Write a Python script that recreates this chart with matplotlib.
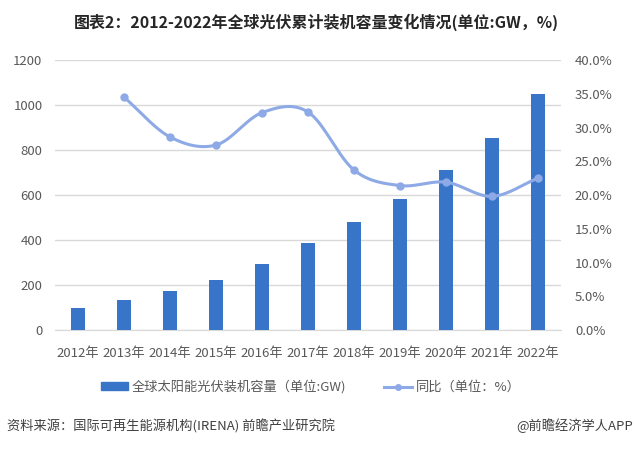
import numpy as np
import matplotlib
matplotlib.use("Agg")
import matplotlib.pyplot as plt
from matplotlib.lines import Line2D
from matplotlib.patches import Patch

plt.rcParams['font.family'] = ['Noto Sans CJK SC', 'DejaVu Sans']

years = ['2012年', '2013年', '2014年', '2015年', '2016年', '2017年',
         '2018年', '2019年', '2020年', '2021年', '2022年']
capacity = [99, 135, 175, 224, 295, 388, 481, 584, 712, 855, 1047]
growth_years_idx = [1, 2, 3, 4, 5, 6, 7, 8, 9, 10]
growth = [34.5, 28.6, 27.4, 32.2, 32.3, 23.7, 21.4, 21.9, 19.8, 22.5]

bar_color = '#3875C8'
line_color = '#8EAAE6'
tick_color = '#595959'
fs = 9.5

W, H = 634, 449
fig = plt.figure(figsize=(W / 100, H / 100), dpi=100)
ax = fig.add_axes([55 / W, 1 - 330 / H, (561 - 55) / W, 270 / H])
ax2 = ax.twinx()

x = np.arange(len(years))
ax.bar(x, capacity, width=0.3, color=bar_color, zorder=3)
ax.set_ylim(0, 1200)
ax.set_yticks(np.arange(0, 1201, 200))
ax.set_xlim(-0.5, len(years) - 0.5)
ax.set_xticks(x)
ax.set_xticklabels(years)
ax.grid(axis='y', color='#D9D9D9', linewidth=1, zorder=0)
ax.set_axisbelow(True)
for s in ['top', 'right', 'left']:
    ax.spines[s].set_visible(False)
    ax2.spines[s].set_visible(False)
ax2.spines['bottom'].set_visible(False)
ax.spines['bottom'].set_color('#D9D9D9')
ax.tick_params(axis='both', length=0, colors=tick_color, labelsize=fs)
ax.tick_params(axis='y', pad=9)
ax.tick_params(axis='x', pad=12)


def catmull_rom(px, py, n=30):
    px = np.asarray(px, float)
    py = np.asarray(py, float)
    P = np.column_stack([px, py])
    P = np.vstack([P[0] - (P[1] - P[0]), P, P[-1] + (P[-1] - P[-2])])
    out = []
    for i in range(1, len(P) - 2):
        p0, p1, p2, p3 = P[i - 1], P[i], P[i + 1], P[i + 2]
        t = np.linspace(0, 1, n, endpoint=(i == len(P) - 3))[:, None]
        seg = 0.5 * ((2 * p1) + (-p0 + p2) * t + (2 * p0 - 5 * p1 + 4 * p2 - p3) * t ** 2
                     + (-p0 + 3 * p1 - 3 * p2 + p3) * t ** 3)
        out.append(seg)
    out = np.vstack(out)
    return out[:, 0], out[:, 1]


gx = x[growth_years_idx]
sx, sy = catmull_rom(gx, growth)
ax2.plot(sx, sy, color=line_color, linewidth=2.2, zorder=4)
ax2.plot(gx, growth, 'o', color=line_color, markersize=5, zorder=5)
ax2.set_ylim(0, 40)
ax2.set_yticks(np.arange(0, 40.1, 5))
ax2.set_yticklabels([f'{v:.1f}%' for v in np.arange(0, 40.1, 5)])
ax2.tick_params(axis='y', length=0, colors=tick_color, labelsize=fs, pad=10)

fig.text(316.5 / W, 1 - 22 / H, '图表2：2012-2022年全球光伏累计装机容量变化情况(单位:GW，%)',
         ha='center', va='center', fontsize=11.5, fontweight='bold', color='#262626')

handles = [Patch(color=bar_color), Line2D([0], [0], color=line_color, lw=2.2,
                                           marker='o', markersize=4)]
labels = ['全球太阳能光伏装机容量（单位:GW)', '同比（单位：%）']
fig.legend(handles, labels, loc='center', bbox_to_anchor=(310.5 / W, 1 - 387 / H),
           ncol=2, frameon=False, fontsize=fs, labelcolor=tick_color,
           handlelength=2.1, handleheight=0.6, columnspacing=2.9, handletextpad=0.25,
           borderpad=0, borderaxespad=0)

fig.text(7 / W, 1 - 426 / H, '资料来源：国际可再生能源机构(IRENA) 前瞻产业研究院',
         ha='left', va='center', fontsize=fs, color='#404040')
fig.text(633 / W, 1 - 426 / H, '@前瞻经济学人APP',
         ha='right', va='center', fontsize=fs, color='#404040')

fig.savefig('out.png', dpi=100)
